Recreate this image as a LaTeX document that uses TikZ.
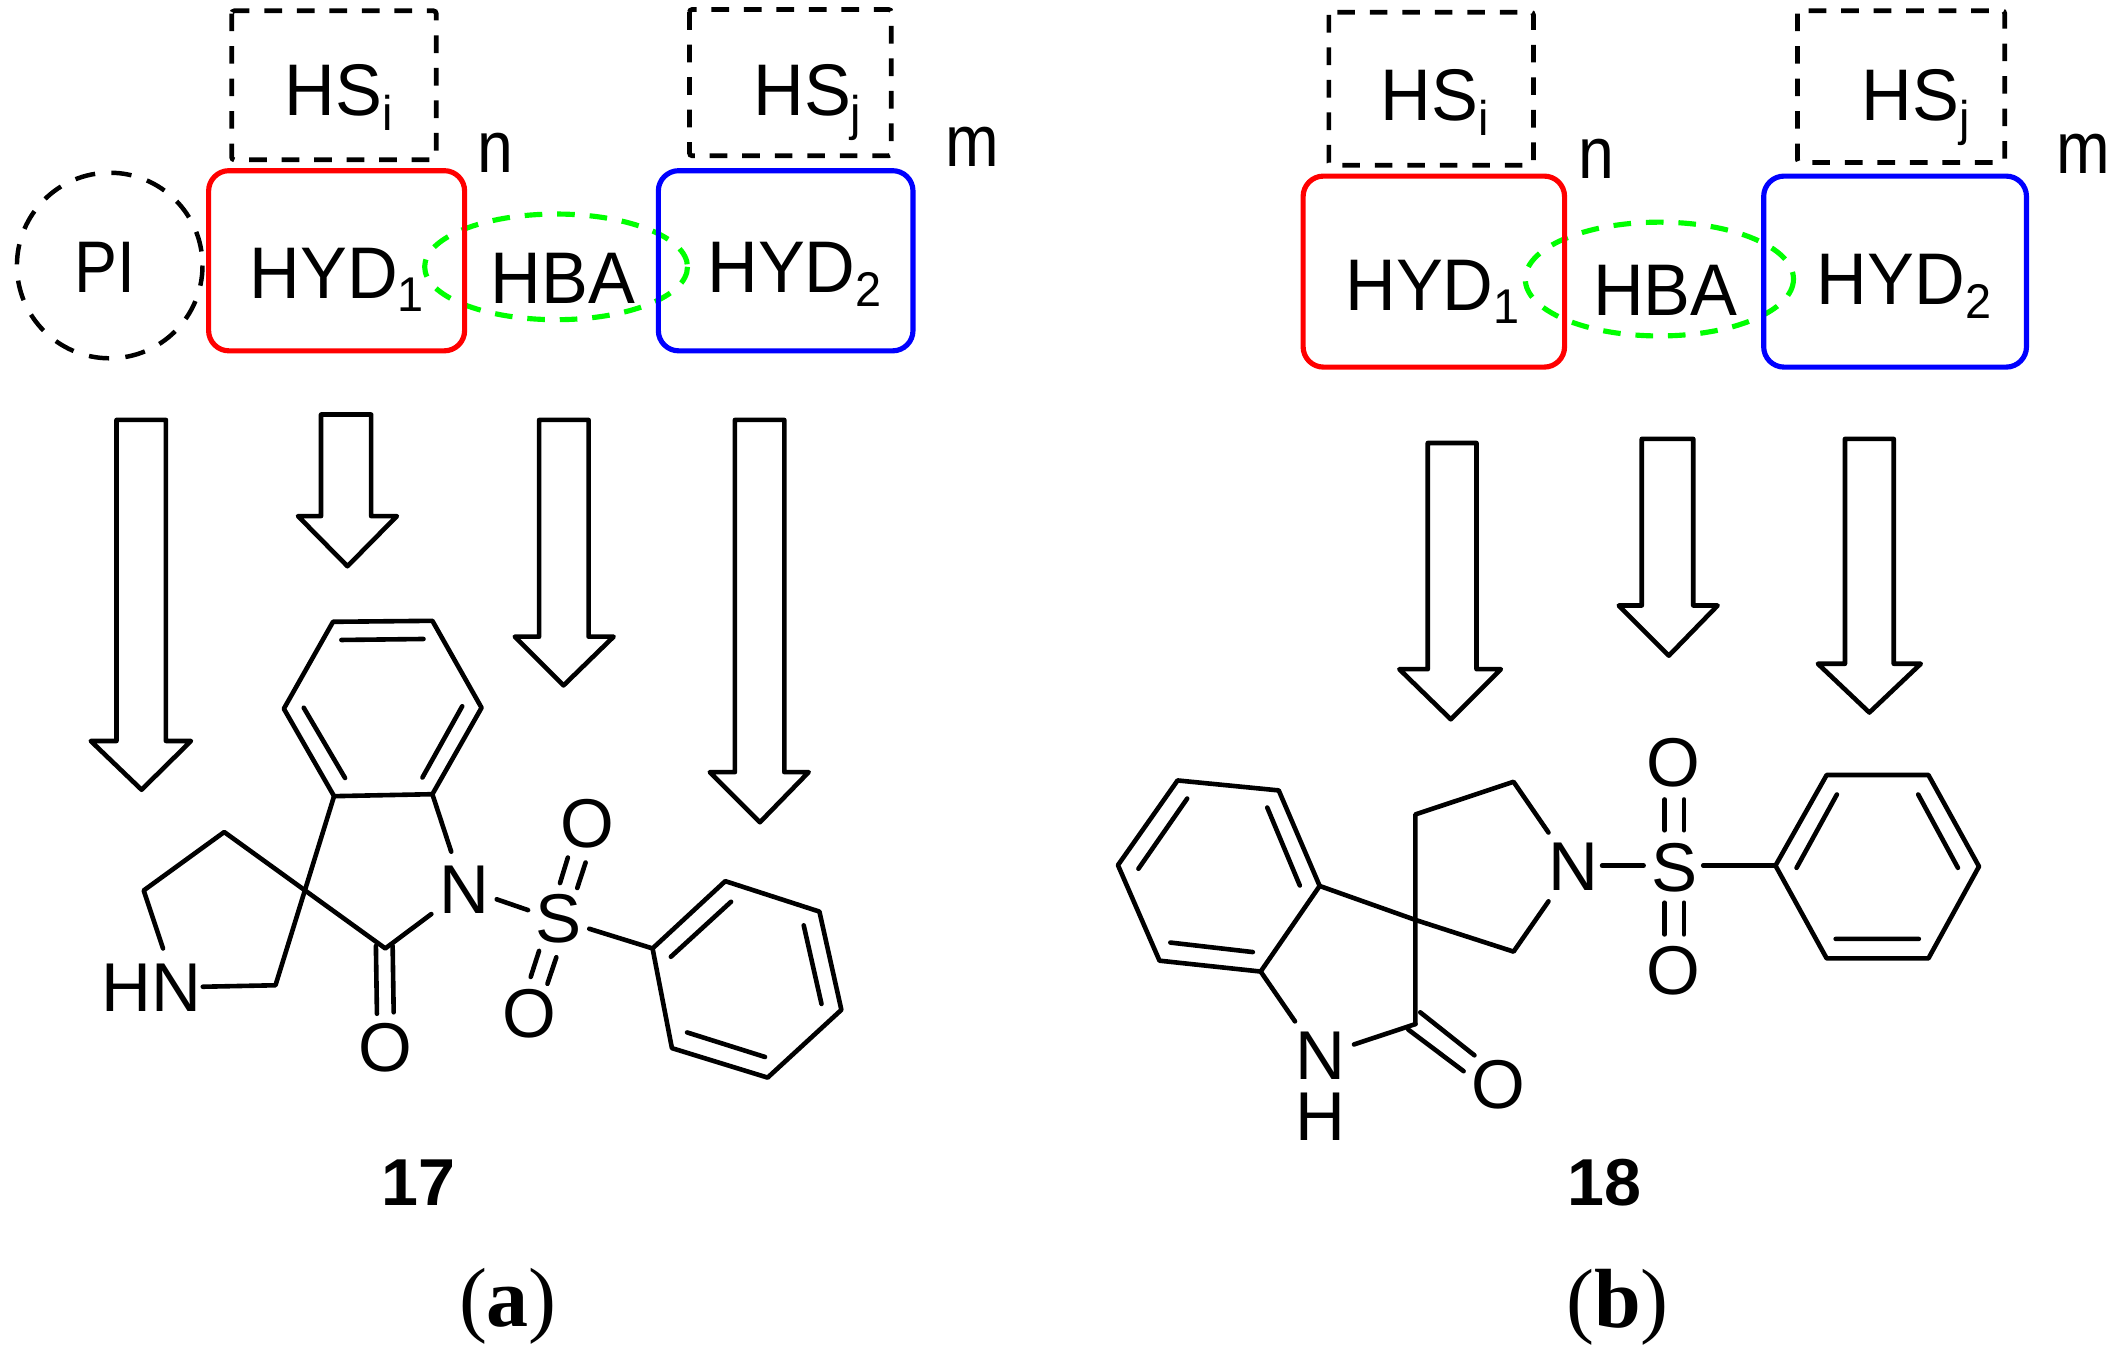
\documentclass[tikz,border=0pt]{standalone}
\usepackage{graphicx}
\usepackage{fontspec}
\setmainfont{Liberation Sans}
\newfontfamily\serifcap{Liberation Serif}
\usetikzlibrary{shapes.geometric}
\newcommand\cnd[1]{\scalebox{.96}[1]{#1}}
\newcommand\cnn[1]{\scalebox{.88}[1]{#1}}
\newcommand\subb[2]{\raisebox{-#1pt}{\fontsize{36}{36}\selectfont #2}}
\newcommand\fatarrow[8]{\draw[fatarrowline] (#1,#3)--(#1,#4)--(#5,#4)--(#7,#8)--(#6,#4)--(#2,#4)--(#2,#3)--cycle;}
\tikzset{
  x=1pt,y=-1pt,
  lab/.style={inner sep=0pt,anchor=base west,font=\fontsize{54}{54}\selectfont},
  atomlab/.style={inner sep=0pt,anchor=center,font=\fontsize{51}{51}\selectfont},
  stacklab/.style={inner sep=0pt,anchor=center,align=center,font=\fontsize{51}{44.5}\selectfont},
  hsbox/.style={draw=black,line width=3.5pt,dash pattern=on 13pt off 11pt,rounded corners=2pt},
  hydred/.style={draw=red,line width=3.8pt,rounded corners=15pt},
  hydblue/.style={draw=blue,line width=3.8pt,rounded corners=15pt},
  hbaring/.style={draw={rgb,255:red,0;green,255;blue,0},line width=3.8pt,dash pattern=on 13pt off 11pt},
  picirc/.style={draw=black,line width=3.3pt,dash pattern=on 15pt off 12pt},
  fatarrowline/.style={draw=black,line width=3.4pt,line join=round},
  bond/.style={draw=black,line width=3.4pt,line cap=round,line join=round},
  cmpd/.style={inner sep=0pt,anchor=base,font=\fontsize{49}{49}\selectfont\bfseries},
  panel/.style={inner sep=0pt,anchor=base,font=\fontsize{62}{62}\selectfont\serifcap},
}
\begin{document}
\begin{tikzpicture}[line join=miter]
\useasboundingbox (0,0) rectangle (1568,997);
\fill[white] (0,0) rectangle (1568,997);

%% ===== panel (a) =====
\draw[hsbox] (171,8) rectangle (322,118);
\draw[hsbox] (509,7) rectangle (658,115);
\draw[picirc] (81,196) circle (68.5);
\draw[hbaring] (410.5,197) ellipse (97 and 39);
\draw[hydred] (154,126) rectangle (343,259);
\draw[hydblue] (486,126) rectangle (674,259);
\node[lab] (hsia) at (210,85) {\cnd{HS\subb{11}{i}}};
\node[lab] (hsja) at (556,85) {\cnd{HS\subb{11}{j}}};
\node[lab] (na)   at (352,127) {\cnn{n}};
\node[lab] (ma)   at (698,123) {\cnn{m}};
\node[lab] (pia)  at (55,216) {\cnn{PI}};
\node[lab] (hy1a) at (184,220) {\cnd{HYD\subb{10}{1}}};
\node[lab] (hy2a) at (522,216) {\cnd{HYD\subb{10}{2}}};
\node[lab] (hbaa) at (362,224) {\cnd{HBA}};

\fatarrow{86}{122.5}{310}{547}{67}{141}{104.5}{583}
\fatarrow{237}{274}{306}{381}{220}{293}{256.5}{418}
\fatarrow{398}{434.5}{310}{470}{380}{453}{416}{506}
\fatarrow{542.5}{579}{310}{570}{524}{597}{561}{607}

%% molecule 17
\begin{scope}[shift={(44.3,428.2)},x=0.3861pt,y=-0.3626pt]
  \coordinate (a1) at (522,85);
  \coordinate (a2) at (712,83);
  \coordinate (a3) at (806,260);
  \coordinate (a4) at (712,436);
  \coordinate (a5) at (524,440);
  \coordinate (a6) at (428,262);
  \coordinate (spa) at (466,633);
  \coordinate (cha) at (412,825);
  \coordinate (ctop) at (314,513);
  \coordinate (clf) at (160,632);
  \coordinate (cco) at (622,750);
  \coordinate (p1) at (1133,750);
  \coordinate (p2) at (1272,613);
  \coordinate (p3) at (1452,675);
  \coordinate (p4) at (1494,875);
  \coordinate (p5) at (1353,1013);
  \coordinate (p6) at (1170,953);
  \node[atomlab] (hnA) at (174,829) {HN};
  \node[atomlab] (nA) at (773,631) {N};
  \node[atomlab] (sA) at (953,690) {S};
  \node[atomlab] (o1A) at (1009,497) {O};
  \node[atomlab] (o2A) at (897,883) {O};
  \node[atomlab] (o3A) at (622,953) {O};
  \draw[bond] (a1)--(a2)--(a3)--(a4)--(a5)--(a6)--cycle;
  \draw[bond] (538,122)--(695,120) (466,260)--(545,403) (769,257)--(693,402);
  \draw[bond] (a4)--(748,553);
  \draw[bond] (a5)--(cha)--(273,828);
  \draw[bond] (197,750)--(clf)--(ctop)--(cco)--(710,680);
  \draw[bond] (604,745)--(606,883) (636,745)--(638,880);
  \draw[bond] (835,650)--(895,672);
  \draw[bond] (971,565)--(956,617) (1005,575)--(989,627);
  \draw[bond] (916,755)--(900,808) (949,768)--(932,822);
  \draw[bond] (1012,710)--(p1);
  \draw[bond] (p1)--(p2)--(p3)--(p4)--(p5)--(p6)--cycle;
  \draw[bond] (1168,767)--(1283,655) (1422,703)--(1456,863) (1348,971)--(1199,921);
\end{scope}
\node[cmpd] (c17) at (309,890) {17};
\node[panel] (pa) at (375,979) {(\textbf{a})};

%% ===== panel (b) =====
\draw[hsbox] (981,9) rectangle (1132,122);
\draw[hsbox] (1327,8) rectangle (1480,120);
\draw[hbaring] (1225,206) ellipse (99 and 42);
\draw[hydred] (962,130) rectangle (1155,271);
\draw[hydblue] (1302,130) rectangle (1496,271);
\node[lab] (hsib) at (1019,89) {\cnd{HS\subb{11}{i}}};
\node[lab] (hsjb) at (1374,89) {\cnd{HS\subb{11}{j}}};
\node[lab] (nb)   at (1165,132) {\cnn{n}};
\node[lab] (mb)   at (1518,128) {\cnn{m}};
\node[lab] (hy1b) at (993,229) {\cnd{HYD\subb{10}{1}}};
\node[lab] (hy2b) at (1341,225) {\cnd{HYD\subb{10}{2}}};
\node[lab] (hbab) at (1176,233) {\cnd{HBA}};

\fatarrow{1054}{1090}{327}{494}{1033}{1108}{1071}{531}
\fatarrow{1212}{1250}{324}{447}{1195}{1268}{1232}{484}
\fatarrow{1362}{1398}{324}{490}{1342}{1418}{1380}{526}

%% molecule 18
\begin{scope}[shift={(797.3,472.5)},x=0.4445pt,y=-0.3343pt]
  \coordinate (b1) at (162,310);
  \coordinate (b2) at (330,332);
  \coordinate (b3) at (398,543);
  \coordinate (b4) at (300,732);
  \coordinate (b5) at (132,708);
  \coordinate (b6) at (63,497);
  \coordinate (spb) at (557,618);
  \coordinate (chb) at (720,688);
  \coordinate (ctb) at (557,385);
  \coordinate (ct2) at (720,313);
  \coordinate (ccb) at (557,848);
  \coordinate (q1) at (1155,498);
  \coordinate (q2) at (1240,298);
  \coordinate (q3) at (1409,298);
  \coordinate (q4) at (1493,500);
  \coordinate (q5) at (1409,703);
  \coordinate (q6) at (1240,703);
  \node[atomlab] (nB) at (820,501) {N};
  \node[atomlab] (sB) at (987,502) {S};
  \node[atomlab] (o1B) at (985,270) {O};
  \node[atomlab] (o2B) at (985,730) {O};
  \node[stacklab] (nhB) at (400,985) {N\\H};
  \node[atomlab] (o3B) at (695,982) {O};
  \draw[bond] (b1)--(b2)--(b3)--(b4)--(b5)--(b6)--cycle;
  \draw[bond] (311,370)--(365,542) (287,689)--(150,668) (97,505)--(178,350);
  \draw[bond] (b3)--(spb)--(chb)--(778,577);
  \draw[bond] (ccb)--(ctb)--(ct2)--(778,425);
  \draw[bond] (b4)--(357,842);
  \draw[bond] (ccb)--(455,893);
  \draw[bond] (565,822)--(655,917) (545,860)--(637,952);
  \draw[bond] (867,498)--(936,498);
  \draw[bond] (1035,498)--(q1);
  \draw[bond] (q1)--(q2)--(q3)--(q4)--(q5)--(q6)--cycle;
  \draw[bond] (1190,503)--(1257,341) (1392,341)--(1458,503) (1255,660)--(1393,660);
  \draw[bond] (971,352)--(971,420) (1003,352)--(1003,420);
  \draw[bond] (971,580)--(971,650) (1003,580)--(1003,650);
\end{scope}
\node[cmpd] (c18) at (1184.5,890) {18};
\node[panel] (pb) at (1194,980) {(\textbf{b})};
\end{tikzpicture}
\end{document}
